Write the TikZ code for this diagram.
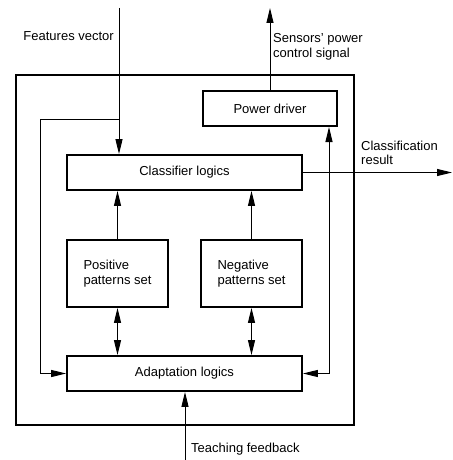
\documentclass[tikz,border=0pt]{standalone}
\usepackage{fontspec}
\setmainfont{Liberation Sans}
\usetikzlibrary{arrows.meta}
\begin{document}
\begin{tikzpicture}[x=1pt,y=-1pt,
  every node/.style={font=\fontsize{13}{14.5}\selectfont, inner sep=0pt},
  blk/.style={draw, line width=1.8pt, minimum width=235pt, minimum height=35pt},
  conn/.style={line width=1pt, -{Triangle[length=15pt,width=7pt]}},
  dconn/.style={line width=1pt, {Triangle[length=15pt,width=7pt]}-{Triangle[length=15pt,width=7pt]}},
  lbl/.style={align=left}]
\useasboundingbox (0,0) rectangle (452,460);
\node[draw, line width=1.8pt, minimum width=338pt, minimum height=350pt] (outer) at (185,250) {};
\node[blk, minimum width=134pt] (pd) at (270,108.5) {Power driver};
\node[blk] (cls) at (184.5,172.5) {Classifier logics};
\node[blk, minimum width=101pt, minimum height=67pt, lbl] (pos) at (117.5,273.5) {Positive\\patterns set};
\node[blk, minimum width=101pt, minimum height=67pt, lbl] (neg) at (251.5,273.5) {Negative\\patterns set};
\node[blk] (ad) at (184.5,373.5) {Adaptation logics};
% coordinates
\coordinate (fvtop) at (119,8);
\coordinate (j1) at (119,119);
\coordinate (lb) at (40,119);
\coordinate (pdtop) at (270,8);
\coordinate (cr) at (452,172.5);
\coordinate (rv) at (329,127);
\coordinate (tb) at (185,460);
% connectors
\draw[conn] (fvtop) -- (fvtop |- cls.north);
\draw[conn] (j1) -- (lb) |- (ad.west);
\draw[conn] (pd.north) -- (pdtop);
\draw[conn] (cls.east) -- (cr);
\draw[dconn] (rv) |- (ad.east);
\draw[conn] (pos.north) -- (pos.north |- cls.south);
\draw[conn] (neg.north) -- (neg.north |- cls.south);
\draw[dconn] (pos.south) -- (pos.south |- ad.north);
\draw[dconn] (neg.south) -- (neg.south |- ad.north);
\draw[conn] (tb) -- (tb |- ad.south);
% labels
\node[anchor=east] (fvl) at (114,36) {Features vector};
\node[anchor=west, lbl] (spl) at (273,47) {Sensors' power\\control signal};
\node[anchor=west, lbl] (crl) at (361,153) {Classification\\result};
\node[anchor=west] (tbl) at (191,449) {Teaching feedback};
\end{tikzpicture}
\end{document}
